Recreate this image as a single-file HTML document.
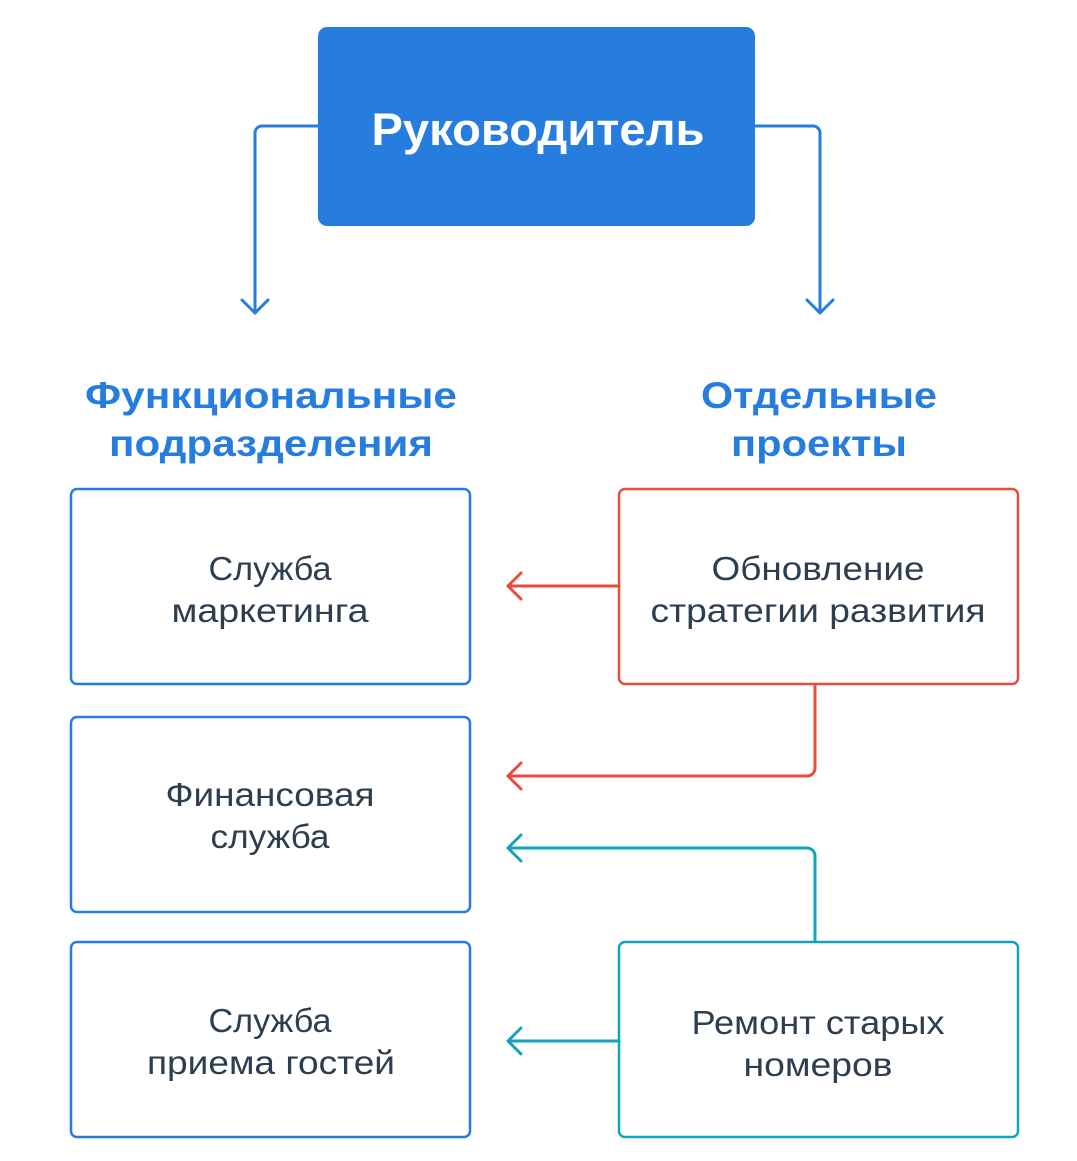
<!DOCTYPE html>
<html><head><meta charset="utf-8"><style>
html,body{margin:0;padding:0;background:#fff}
svg{display:block}
text{font-family:"Liberation Sans","DejaVu Sans",sans-serif}
</style></head><body>
<svg width="1077" height="1161" viewBox="0 0 1077 1161" xmlns="http://www.w3.org/2000/svg">
<rect x="318" y="27" width="437" height="199" rx="9" fill="#267DDE"/>
<text x="538" y="145" text-anchor="middle" font-size="45" font-weight="bold" fill="#fff" textLength="333" lengthAdjust="spacingAndGlyphs">Руководитель</text>
<g fill="none" stroke="#267DDE" stroke-width="3" stroke-linecap="round" stroke-linejoin="round">
<path d="M318 126 H262 a7 7 0 0 0 -7 7 V313"/>
<path d="M242 300 L255 313 L268 300"/>
<path d="M755 126 H813 a7 7 0 0 1 7 7 V313"/>
<path d="M807 300 L820 313 L833 300"/>
</g>
<g font-size="37" font-weight="bold" fill="#267DDE" text-anchor="middle" lengthAdjust="spacingAndGlyphs">
<text x="271" y="408" textLength="372" lengthAdjust="spacingAndGlyphs">Функциональные</text>
<text x="271" y="456" textLength="324" lengthAdjust="spacingAndGlyphs">подразделения</text>
<text x="819" y="408" textLength="236" lengthAdjust="spacingAndGlyphs">Отдельные</text>
<text x="819" y="456" textLength="176" lengthAdjust="spacingAndGlyphs">проекты</text>
</g>
<g fill="#fff" stroke="#267DDE" stroke-width="2.5">
<rect x="71" y="489" width="399" height="195" rx="6"/>
<rect x="71" y="717" width="399" height="195" rx="6"/>
<rect x="71" y="942" width="399" height="195" rx="6"/>
</g>
<rect x="619" y="489" width="399" height="195" rx="6" fill="#fff" stroke="#E84C3D" stroke-width="2.5"/>
<rect x="619" y="942" width="399" height="195" rx="6" fill="#fff" stroke="#11A3BA" stroke-width="2.5"/>
<g font-size="33" fill="#2D3E50" text-anchor="middle">
<text x="270" y="580" textLength="123" lengthAdjust="spacingAndGlyphs">Служба</text>
<text x="270" y="622" textLength="197" lengthAdjust="spacingAndGlyphs">маркетинга</text>
<text x="270" y="806" textLength="209" lengthAdjust="spacingAndGlyphs">Финансовая</text>
<text x="270" y="848" textLength="119" lengthAdjust="spacingAndGlyphs">служба</text>
<text x="270" y="1032" textLength="123" lengthAdjust="spacingAndGlyphs">Служба</text>
<text x="271" y="1074" textLength="248" lengthAdjust="spacingAndGlyphs">приема гостей</text>
<text x="818" y="580" textLength="213" lengthAdjust="spacingAndGlyphs">Обновление</text>
<text x="818" y="622" textLength="335" lengthAdjust="spacingAndGlyphs">стратегии развития</text>
<text x="818" y="1034" textLength="253" lengthAdjust="spacingAndGlyphs">Ремонт старых</text>
<text x="818" y="1076" textLength="149" lengthAdjust="spacingAndGlyphs">номеров</text>
</g>
<g fill="none" stroke="#E84C3D" stroke-width="3" stroke-linecap="round" stroke-linejoin="round">
<path d="M619 586 H508"/>
<path d="M521 573 L508 586 L521 599"/>
<path d="M815 685 V768 a8 8 0 0 1 -8 8 H508"/>
<path d="M521 763 L508 776 L521 789"/>
</g>
<g fill="none" stroke="#11A3BA" stroke-width="3" stroke-linecap="round" stroke-linejoin="round">
<path d="M815 941 V856 a8 8 0 0 0 -8 -8 H508"/>
<path d="M521 835 L508 848 L521 861"/>
<path d="M619 1041 H508"/>
<path d="M521 1028 L508 1041 L521 1054"/>
</g>
</svg>
</body></html>
